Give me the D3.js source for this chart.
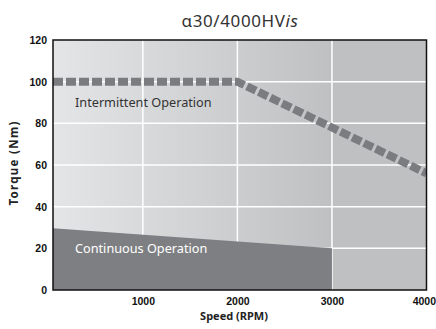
<!DOCTYPE html>
<html><head><meta charset="utf-8">
<script src="https://cdn.jsdelivr.net/npm/d3@7"></script>
<style>body{margin:0;background:#fff}svg{display:block}</style>
</head><body>
<svg id="c" width="436" height="329"></svg>
<script>
const xTicks = [1000, 2000, 3000, 4000];
const yTicks = [0, 20, 40, 60, 80, 100, 120];
const intermittentSpeed = [50, 2000, 3000, 4000];
const intermittentTorque = [100, 100, 78, 56];
const continuousSpeed = [50, 3000];
const continuousTorque = [29.6, 20];

const svg = d3.select("#c");
const L = 53, R = 426.5, T = 40, B = 290;
const x = d3.scaleLinear().domain([50, 4000]).range([L, R]);
const y = d3.scaleLinear().domain([0, 120]).range([B, T]);

const defs = svg.append("defs");
const g = defs.append("linearGradient").attr("id", "bg").attr("x1", "0").attr("x2", "1").attr("y1", "0").attr("y2", "0");
g.append("stop").attr("offset", "0%").attr("stop-color", "#e4e5e7");
g.append("stop").attr("offset", "75%").attr("stop-color", "#bfc0c2");
g.append("stop").attr("offset", "100%").attr("stop-color", "#bfc0c2");
defs.append("clipPath").attr("id", "clip").append("rect").attr("x", L).attr("y", T).attr("width", R - L).attr("height", B - T);

svg.append("rect").attr("x", L).attr("y", T).attr("width", R - L).attr("height", B - T).attr("fill", "url(#bg)");

// grid
svg.append("g").selectAll("line").data(yTicks.filter(d => d > 0 && d < 120)).join("line")
  .attr("x1", L).attr("x2", R).attr("y1", d => y(d)).attr("y2", d => y(d))
  .attr("stroke", "#fff").attr("stroke-width", 1.5);
svg.append("g").selectAll("line").data(xTicks.filter(d => d < 4000)).join("line")
  .attr("y1", T).attr("y2", B).attr("x1", d => x(d)).attr("x2", d => x(d))
  .attr("stroke", "#fff").attr("stroke-width", 1.5);

// continuous area
const contData = continuousSpeed.map((s, i) => [s, continuousTorque[i]]);
svg.append("path").datum(contData)
  .attr("d", d3.area().x(d => x(d[0])).y0(y(0)).y1(d => y(d[1])))
  .attr("fill", "#7e7f83");

// intermittent line
const intData = intermittentSpeed.map((s, i) => [s, intermittentTorque[i]]);
svg.append("path").datum(intData)
  .attr("clip-path", "url(#clip)")
  .attr("d", d3.line().x(d => x(d[0])).y(d => y(d[1])))
  .attr("fill", "none").attr("stroke", "#7b7c80").attr("stroke-width", 8)
  .attr("stroke-dasharray", "10,3");

// frame
svg.append("rect").attr("x", L).attr("y", T).attr("width", R - L).attr("height", B - T)
  .attr("fill", "none").attr("stroke", "#111").attr("stroke-width", 1.5);

// axes labels
const tickFont = "'Liberation Sans Narrow','Arial Narrow','Liberation Sans',sans-serif";
svg.append("g").call(d3.axisLeft(y).tickValues(yTicks).tickSize(0).tickPadding(6))
  .attr("transform", `translate(${L},0)`)
  .call(a => a.select(".domain").remove())
  .selectAll("text").attr("font-family", tickFont).attr("font-weight", "bold").attr("font-size", 10.5).attr("fill", "#111");
const xa = svg.append("g").call(d3.axisBottom(x).tickValues(xTicks).tickSize(0).tickPadding(8).tickFormat(d3.format("d")))
  .attr("transform", `translate(0,${B})`)
  .call(a => a.select(".domain").remove());
xa.selectAll("text").attr("font-family", tickFont).attr("font-weight", "bold").attr("font-size", 10.5).attr("fill", "#111");
xa.selectAll(".tick").filter(d => d === 4000).select("text").attr("text-anchor", "end").attr("dx", 9);

const f = "'Noto Sans','Open Sans',sans-serif";
svg.append("text").attr("y", 320).attr("text-anchor", "middle")
  .attr("font-family", f).attr("font-weight", "bold").attr("font-size", 11).attr("fill", "#222")
  .attr("x", 234).text("Speed (RPM)");
svg.append("text").attr("transform", "translate(18,163) rotate(-90)").attr("text-anchor", "middle")
  .attr("font-family", f).attr("font-weight", "bold").attr("font-size", 11.5).attr("letter-spacing", 1.3).attr("fill", "#222")
  .text("Torque (Nm)");

const title = svg.append("text").attr("x", 240).attr("y", 27).attr("text-anchor", "middle")
  .attr("font-family", f).attr("font-size", 17).attr("letter-spacing", 0.6).attr("fill", "#333");
title.append("tspan").text("α30/4000HV");
title.append("tspan").attr("font-style", "italic").text("is");

svg.append("text").attr("x", 75).attr("y", 107).attr("font-family", f).attr("font-size", 12.7)
  .attr("fill", "#333").text("Intermittent Operation");
svg.append("text").attr("x", 75).attr("y", 253).attr("font-family", f).attr("font-size", 12.7)
  .attr("fill", "#fff").text("Continuous Operation");
</script>
</body></html>
